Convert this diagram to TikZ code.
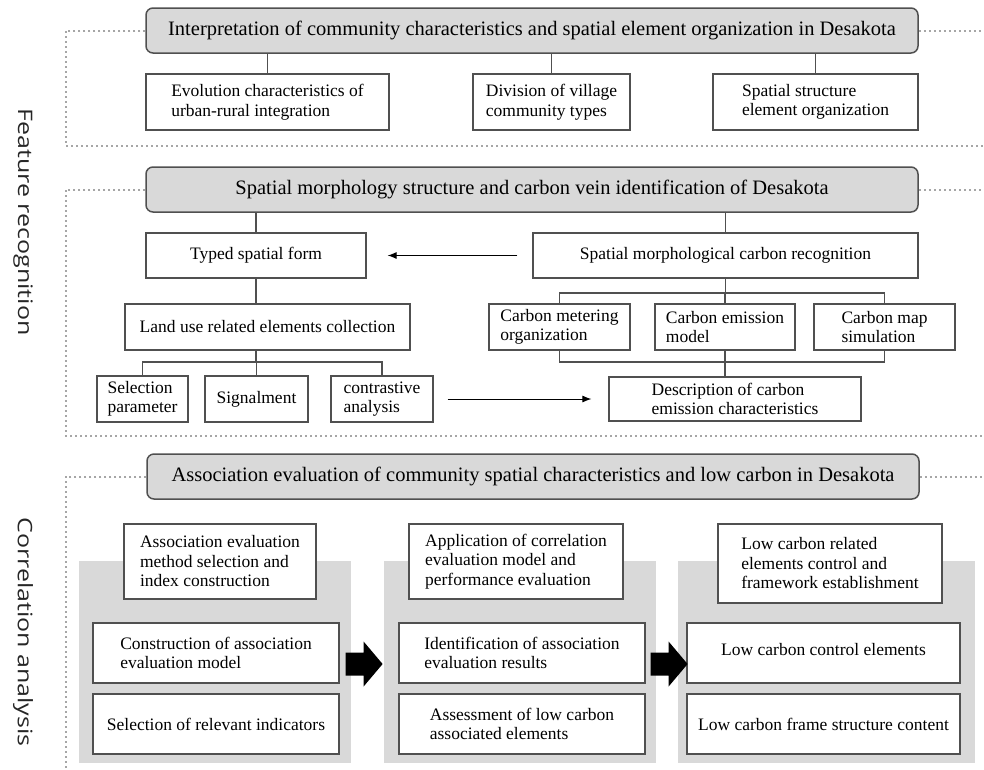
\documentclass[tikz,border=0pt]{standalone}
\usepackage{fontspec}
\setmainfont{Liberation Serif}
\newfontfamily\sidefont{Open Sans}
\usetikzlibrary{calc,arrows.meta}
\definecolor{hdrgray}{HTML}{D9D9D9}
\definecolor{edgec}{HTML}{505050}
\definecolor{dotc}{HTML}{A6A6A6}
\begin{document}
\begin{tikzpicture}[x=1pt,y=-1pt,
 hdr/.style={draw=edgec, line width=1.5pt, fill=hdrgray, rounded corners=7pt, minimum width=772pt, minimum height=45pt, inner sep=0pt, font=\fontsize{20.5}{24}\selectfont},
 box/.style={draw=edgec, line width=1.2pt, fill=white, inner sep=0pt, align=left, font=\fontsize{17.5}{19.5}\selectfont},
 link/.style={draw=edgec, line width=1.2pt},
 thinarrow/.style={draw=black, line width=1pt, -{Latex[length=9pt,width=7pt]}},
 panel/.style={fill=hdrgray, draw=none, inner sep=0pt, outer sep=0pt},
 dots/.style={draw=dotc, line width=2pt, dash pattern=on 2pt off 3pt},
 side/.style={font=\sidefont\fontsize{20}{24}\selectfont, rotate=-90, text=black!85, inner sep=0pt}]

\useasboundingbox (0,0) rectangle (984,769);

% ---------- Section 1 ----------
\node[hdr] (h1) at (532,30.5) {Interpretation of community characteristics and spatial element organization in Desakota};
\node[box, minimum width=243pt, minimum height=56pt] (b1a) at (267.5,102) {Evolution characteristics of\\urban-rural integration};
\node[box, minimum width=157pt, minimum height=56pt] (b1b) at (551.5,102) {Division of village\\community types};
\node[box, minimum width=205pt, minimum height=56pt] (b1c) at (815.5,102) {Spatial structure\\element organization};
\draw[link] (b1a.north) -- (b1a.north |- h1.south);
\draw[link] (b1b.north) -- (b1b.north |- h1.south);
\draw[link] (b1c.north) -- (b1c.north |- h1.south);
\draw[dots] (h1.west) -| (66,146) -- (984,146);
\draw[dots] (h1.east) -- ++(66,0);

% ---------- Section 2 ----------
\node[hdr] (h2) at (532,189.5) {Spatial morphology structure and carbon vein identification of Desakota};
\node[box, minimum width=220pt, minimum height=45pt] (typed) at (256,255.5) {Typed spatial form};
\node[box, minimum width=385pt, minimum height=45pt] (smcr) at (725.5,255.5) {Spatial morphological carbon recognition};
\node[box, minimum width=285pt, minimum height=46pt] (land) at (267.5,327) {Land use related elements collection};
\node[box, minimum width=91pt, minimum height=46pt] (sp) at (142.5,399) {Selection\\parameter};
\node[box, minimum width=103pt, minimum height=46pt] (sig) at (256.5,399) {Signalment};
\node[box, minimum width=102pt, minimum height=46pt] (ca) at (382,399) {contrastive\\analysis};
\node[box, minimum width=141pt, minimum height=46pt] (cm) at (559.5,327) {Carbon metering\\organization};
\node[box, minimum width=140pt, minimum height=46pt] (ce) at (725,327) {Carbon emission\\model};
\node[box, minimum width=141pt, minimum height=46pt] (cmap) at (884.5,327) {Carbon map\\simulation};
\node[box, minimum width=252pt, minimum height=44pt] (desc) at (735,399) {Description of carbon\\emission characteristics};

\coordinate (brA) at (0,362);
\coordinate (brB) at (0,293);
\draw[link] (typed.north) -- (typed.north |- h2.south);
\draw[link] (smcr.north) -- (smcr.north |- h2.south);
\draw[thinarrow, shorten <=15pt, shorten >=21pt] (smcr.west) -- (typed.east);
\draw[link] (typed.south) -- (typed.south |- land.north);
\draw[link] (typed.south |- land.south) -- (typed.south |- brA);
\draw[link] (sp.north) |- (ca.north |- brA) -- (ca.north);
\draw[link] (sig.north) -- (sig.north |- brA);
\draw[link] (smcr.south) -- (smcr.south |- brB);
\draw[link] (cm.north) |- (cmap.north |- brB) -- (cmap.north);
\draw[link] (ce.north) -- (ce.north |- brB);
\draw[link] (cm.south) |- (cmap.south |- brA) -- (cmap.south);
\draw[link] (ce.south) -- (ce.south |- desc.north);
\draw[thinarrow, shorten <=14pt, shorten >=17pt] (ca.east) -- (ca.east -| desc.west);
\draw[dots] (h2.west) -| (66,436) -- (984,436);
\draw[dots] (h2.east) -- ++(66,0);

% ---------- Section 3 ----------
\node[hdr] (h3) at (533,476.5) {Association evaluation of community spatial characteristics and low carbon in Desakota};
\node[panel, minimum width=272pt, minimum height=202pt] (p1) at (215,662) {};
\node[panel, minimum width=272pt, minimum height=202pt] (p2) at (520,662) {};
\node[panel, minimum width=297pt, minimum height=202pt] (p3) at (826.5,662) {};

\node[box, minimum width=192pt, minimum height=75pt] (t1) at (220,561.5) {Association evaluation\\method selection and\\index construction};
\node[box, minimum width=214pt, minimum height=75pt] (t2) at (516,561.5) {Application of correlation\\evaluation model and\\performance evaluation};
\node[box, minimum width=224pt, minimum height=79pt] (t3) at (830,563.5) {Low carbon related\\elements control and\\framework establishment};

\node[box, minimum width=246pt, minimum height=60pt] (m1) at (216,653) {Construction of association\\evaluation model};
\node[box, minimum width=246pt, minimum height=60pt] (l1) at (216,724) {Selection of relevant indicators};
\node[box, minimum width=246pt, minimum height=60pt] (m2) at (522,653) {Identification of association\\evaluation results};
\node[box, minimum width=246pt, minimum height=60pt] (l2) at (522,724) {Assessment of low carbon\\associated elements};
\node[box, minimum width=273pt, minimum height=60pt, text depth=8pt] (m3) at (823.5,653) {Low carbon control elements};
\node[box, minimum width=273pt, minimum height=60pt] (l3) at (823.5,724) {Low carbon frame structure content};

\coordinate (a1s) at ($(m1.east)+(6,11)$);
\coordinate (a2s) at ($(m2.east)+(5,11)$);
\fill[black] (a1s) ++(0,-11.5) -- ++(18,0) -- ++(0,-11) -- ++(19,22.5) -- ++(-19,22.5) -- ++(0,-11) -- ++(-18,0) -- cycle;
\fill[black] (a2s) ++(0,-11.5) -- ++(18,0) -- ++(0,-11) -- ++(19,22.5) -- ++(-19,22.5) -- ++(0,-11) -- ++(-18,0) -- cycle;

\draw[dots] (h3.west) -| (66,769);
\draw[dots] (h3.east) -- ++(65,0);

% ---------- Side labels ----------
\node[side] (fr) at (23,222) {\scalebox{1.25}[1]{Feature recognition}};
\node[side] (cr) at (23,632) {\scalebox{1.25}[1]{Correlation analysis}};
\end{tikzpicture}
\end{document}
